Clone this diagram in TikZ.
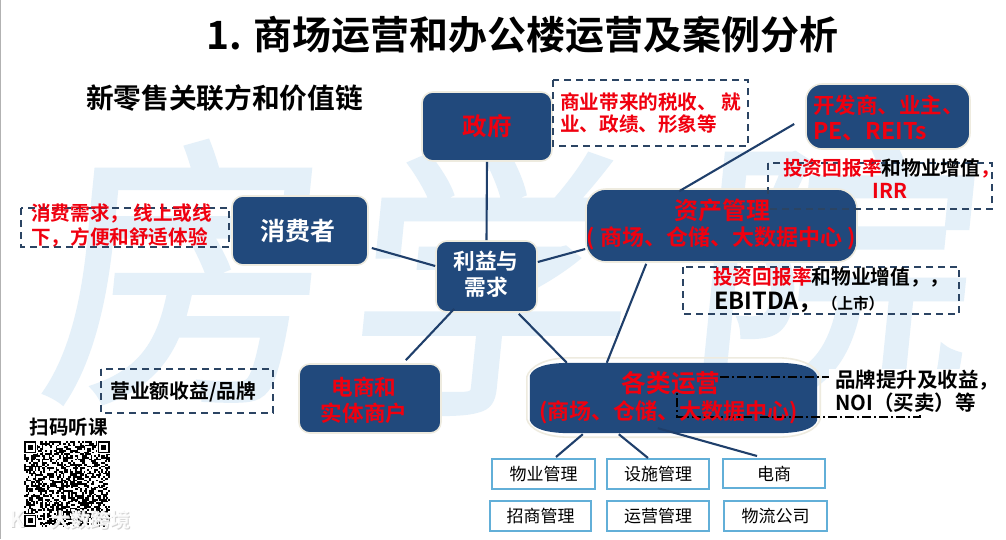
\documentclass[tikz,border=0pt]{standalone}
\usepackage{fontspec}
\usetikzlibrary{calc}
\setmainfont{Noto Sans CJK SC}
\newfontfamily\cjkb{Noto Sans CJK SC Bold}
\newfontfamily\wmfont[FakeBold=1.5]{Noto Sans CJK SC}
\definecolor{navy}{HTML}{21497C}
\definecolor{linkc}{HTML}{1F3F6B}
\definecolor{halo}{HTML}{EEEBDF}
\definecolor{wm}{HTML}{E4F0F9}
\definecolor{boxc}{HTML}{62AFD8}
\definecolor{dashc}{HTML}{2B4463}
\definecolor{redt}{HTML}{F0000F}
\newcommand{\fs}[1]{\fontsize{#1pt}{#1pt}\selectfont}
\tikzset{
  x=1pt,y=-1pt,
  blue box/.style={rectangle,rounded corners=11pt,fill=navy,draw=halo,line width=1.6pt,inner sep=0pt,align=center},
  link/.style={draw=linkc,line width=2.1pt},
  sub box/.style={rectangle,draw=boxc,line width=2pt,fill=white,inner sep=0pt,font=\fs{17}},
  note box/.style={draw=dashc,line width=1.4pt,dash pattern=on 7pt off 5pt},
  rb/.style={font=\cjkb,text=redt},
  wb/.style={font=\cjkb,text=white},
  lbl/.style={inner sep=0pt,align=left},
  wmark/.style={inner sep=0pt,text=wm,font=\wmfont\fs{285},xslant=0.1,transform shape}
}
\begin{document}
\begin{tikzpicture}
\useasboundingbox (0,0) rectangle (1006,539);
\fill[white] (0,0) rectangle (1006,539);
\fill[black!30] (0,0) rectangle (1.2,539);
% watermark
\node[wmark] (w1) at (190,272) {房};
\node[wmark] (w2) at (495,282) {学};
\node[wmark] (w3) at (835,272) {院};
% title
\node[inner sep=0pt,font=\cjkb\fs{39}] (title) at (522.5,35) {1. 商场运营和办公楼运营及案例分析};
\node[inner sep=0pt,font=\cjkb\fs{27.7}] (sub) at (224.5,98) {新零售关联方和价值链};
% blue nodes
\node[blue box,minimum width=130pt,minimum height=69pt] (gov) at (487,126.5) {};
\node[blue box,minimum width=164pt,minimum height=65pt,rounded corners=16pt] (dev) at (888,116.5) {};
\node[blue box,minimum width=271pt,minimum height=73pt,rounded corners=20pt] (asset) at (721.5,225.5) {};
\node[blue box,minimum width=136pt,minimum height=69pt] (cons) at (300,230.5) {};
\node[blue box,minimum width=101pt,minimum height=71pt] (hub) at (486.5,276.5) {};
\node[blue box,minimum width=142pt,minimum height=69pt] (merch) at (370,398.5) {};
\node[minimum width=287pt,minimum height=70pt,inner sep=0pt] (ops) at (673.5,398) {};
% halo and body of the operations node
\draw[halo,line width=1.6pt] ([xshift=-3pt,yshift=-14pt]ops.north west) .. controls +(3,-10) and +(-25,0) .. ([xshift=40pt,yshift=5pt]ops.north west) -- ([xshift=-40pt,yshift=5pt]ops.north east) .. controls +(25,0) and +(-3,-10) .. ([xshift=3pt,yshift=-14pt]ops.north east) -- ([xshift=3pt,yshift=14pt]ops.south east) .. controls +(-3,10) and +(25,0) .. ([xshift=-40pt,yshift=-4pt]ops.south east) -- ([xshift=40pt,yshift=-4pt]ops.south west) .. controls +(-25,0) and +(3,10) .. ([xshift=-3pt,yshift=14pt]ops.south west) -- cycle;
\fill[navy] ([yshift=-13pt]ops.north west) .. controls +(3,-9) and +(-25,0) .. ([xshift=42pt]ops.north west) -- ([xshift=-42pt]ops.north east) .. controls +(25,0) and +(-3,-9) .. ([yshift=-13pt]ops.north east) -- ([yshift=13pt]ops.south east) .. controls +(-3,9) and +(25,0) .. ([xshift=-42pt]ops.south east) -- ([xshift=42pt]ops.south west) .. controls +(-25,0) and +(3,9) .. ([yshift=13pt]ops.south west) -- cycle;
% sub boxes
\node[sub box,minimum width=103pt,minimum height=30pt] (b1) at (543.5,474) {物业管理};
\node[sub box,minimum width=102pt,minimum height=30pt] (b2) at (658,474) {设施管理};
\node[sub box,minimum width=102pt,minimum height=29pt] (b3) at (774,473.5) {电商};
\node[sub box,minimum width=101pt,minimum height=30pt] (b4) at (540.5,516) {招商管理};
\node[sub box,minimum width=102pt,minimum height=30pt] (b5) at (658,516) {运营管理};
\node[sub box,minimum width=103pt,minimum height=30pt] (b6) at (775.5,516) {物流公司};
% connectors
\draw[link] (gov.south) -- (hub.north);
\draw[link] ([xshift=3pt,yshift=-17.5pt]cons.east) -- ([yshift=10.5pt]hub.west);
\draw[link] ([yshift=14.5pt]hub.east) -- ([yshift=-23.5pt]asset.west);
\draw[link] ([xshift=19pt,yshift=4pt]hub.south west) -- ([xshift=-36pt,yshift=3pt]merch.north east);
\draw[link] ([xshift=-19pt,yshift=-1pt]hub.south east) -- ([xshift=37pt]ops.north west);
\draw[link] ([xshift=61pt,yshift=-1pt]asset.south west) -- ([xshift=77pt]ops.north west);
\draw[link] ([xshift=-11pt,yshift=-7.5pt]dev.west) -- ([xshift=94pt,yshift=-3pt]asset.north west);
\draw[link] ([xshift=53pt,yshift=-1pt]ops.south west) -- ([xshift=12.5pt,yshift=1pt]b1.north);
\draw[link] ([xshift=89pt,yshift=-1pt]ops.south west) -- ([xshift=-10pt]b2.north);
\draw[link] ([xshift=128pt,yshift=5pt]ops.south west) -- ([xshift=-17pt,yshift=2pt]b3.north);
% dashed notes
\draw[note box] (553,80) rectangle (748,146);
\draw[note box] (768,163) rectangle (992,209);
\draw[note box] (683,267) rectangle (959,314);
\draw[note box] (21,208) rectangle (229,247);
\draw[note box] (101,369) rectangle (273,413);
\draw[black,line width=1.1pt,dash pattern=on 9pt off 3pt on 2pt off 3pt] (720,377) -- (920,377) -- (920,417) -- (677,417) -- (677,390);
\fill[white] (829,369) rectangle (998,415);
% node texts
\node[rb,inner sep=0pt,font=\cjkb\fs{24.5}] at (gov) {政府};
\node[rb,lbl,anchor=west,font=\cjkb\fs{21.5}] (t1) at (813,105) {开发商、业主、};
\node[rb,lbl,anchor=west,font=\cjkb\fs{23}] (t2) at (813,132) {PE、REITs};
\node[rb,inner sep=0pt,font=\cjkb\fs{24}] (t3) at (722,210) {资产管理};
\node[rb,inner sep=0pt,font=\cjkb\fs{22}] (t4) at (721,238) {( 商场、仓储、大数据中心 )};
\node[wb,inner sep=0pt,font=\cjkb\fs{25}] at (298,231) {消费者};
\node[wb,inner sep=0pt,font=\cjkb\fs{21.7}] (t5) at (486,261) {利益与};
\node[wb,inner sep=0pt,font=\cjkb\fs{21.7}] (t6) at (486,287) {需求};
\node[rb,inner sep=0pt,font=\cjkb\fs{21.6}] (t7) at (364,387) {电商和};
\node[rb,inner sep=0pt,font=\cjkb\fs{21.6}] (t8) at (364,413) {实体商户};
\node[rb,inner sep=0pt,font=\cjkb\fs{24.6}] (t9) at (671,383) {各类运营};
\node[rb,inner sep=0pt,font=\cjkb\fs{22}] (t10) at (668.5,412) {(商场、仓储、大数据中心)};
% note texts
\node[rb,lbl,anchor=west,font=\cjkb\fs{19.6}] (n1) at (560,102) {商业带来的税收、 就};
\node[rb,lbl,anchor=west,font=\cjkb\fs{19.6}] (n2) at (560,124) {业、政绩、形象等};
\node[lbl,anchor=west,font=\cjkb\fs{19.7}] (n3) at (783,168) {\textcolor{redt}{投资回报率}和物业增值\textcolor{redt}{，}};
\node[lbl,rb,font=\cjkb\fs{20.5}] (n4) at (890,191) {IRR};
\node[lbl,anchor=west,font=\cjkb\fs{19.7}] (n5) at (713,277) {\textcolor{redt}{投资回报率}和物业增值，，};
\node[lbl,anchor=west,font=\cjkb\fs{23.5}] (n6) at (714,302) {EBITDA，{\fs{15.5}（上市）}};
\node[rb,lbl,anchor=west,font=\cjkb\fs{19.6}] (n7) at (31,213.5) {消费需求， 线上或线};
\node[rb,lbl,anchor=west,font=\cjkb\fs{19.6}] (n8) at (31,237) {下，方便和舒适体验};
\node[lbl,anchor=west,font=\cjkb\fs{19.8}] (n9) at (110,392) {营业额收益/品牌};
\node[lbl,anchor=west,font=\cjkb\fs{20.5}] (n10) at (835,380) {品牌提升及收益，};
\node[lbl,anchor=west,font=\cjkb\fs{20.5}] (n11) at (835,403) {NOI（买卖）等};
\node[inner sep=0pt,font=\cjkb\fs{19.5}] (qrt) at (68.5,427) {扫码听课};
% QR
\pgfmathsetseed{42}
\begin{scope}[shift={(24,441)},x=1.755pt,y=-1.755pt]
\foreach \i in {0,...,48}{\foreach \j in {0,...,48}{
  \pgfmathparse{rnd>0.5?1:0}
  \ifnum\pgfmathresult=1 \fill[black] (\i,\j) rectangle +(1.02,1.02);\fi
}}
\foreach \a/\b in {0/0,42/0,0/42}{
  \fill[white] (\a-0.4,\b-0.4) rectangle +(7.8,7.8);
  \fill[black] (\a,\b) rectangle +(7,7);
  \fill[white] (\a+1,\b+1) rectangle +(5,5);
  \fill[black] (\a+2,\b+2) rectangle +(3,3);
}
\end{scope}
% corner mark
\node[inner sep=0pt,text=black!18,font=\cjkb\fs{20}] (logoa) at (91,520.5) {大数跨境};
\node[inner sep=0pt,text=white,opacity=0.9,font=\cjkb\fs{20}] (logob) at (90.3,519.8) {大数跨境};
\node[inner sep=0pt,text=black!18,font=\cjkb\fs{22}] (logoc) at (18,520.5) {K};
\node[inner sep=0pt,text=white,opacity=0.9,font=\cjkb\fs{22}] (logod) at (17.3,519.8) {K};
\end{tikzpicture}
\end{document}
